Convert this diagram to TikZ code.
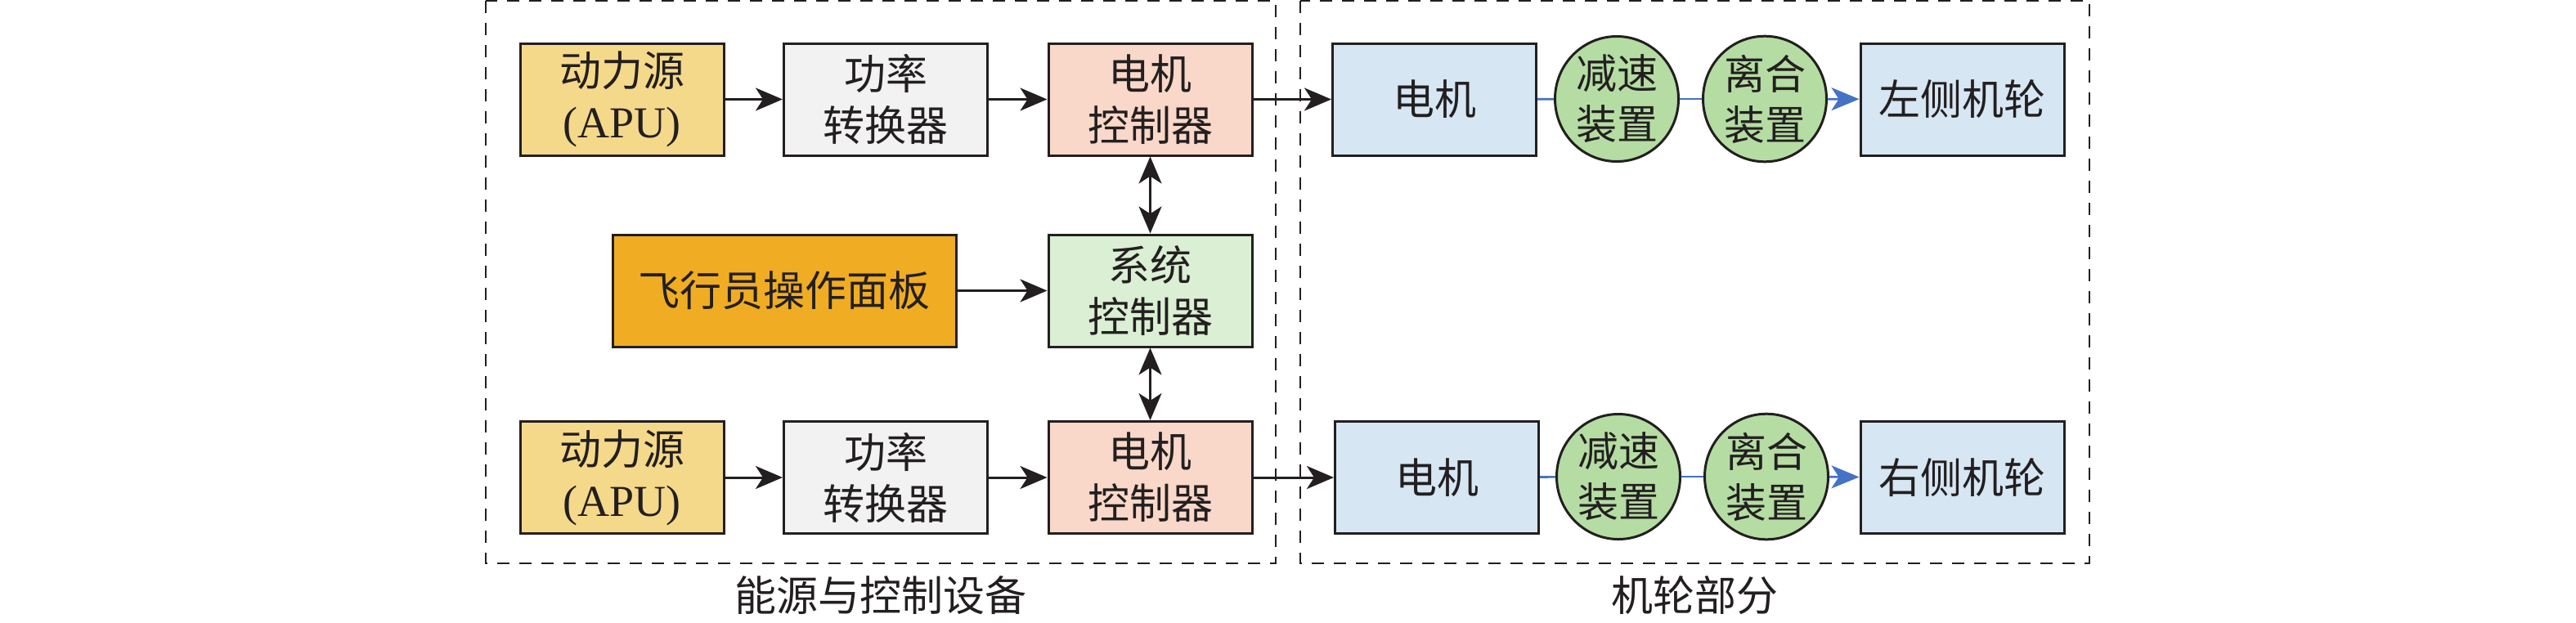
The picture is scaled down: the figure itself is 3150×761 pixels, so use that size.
\documentclass[tikz,border=0pt]{standalone}
\usepackage{fontspec}
\setmainfont{Liberation Serif}
\newfontfamily\cjk{Noto Sans CJK SC}
\usetikzlibrary{arrows.meta,shapes.geometric}
\definecolor{cAPU}{HTML}{F4D98B}
\definecolor{cPow}{HTML}{F2F2F2}
\definecolor{cMC}{HTML}{F9D8C9}
\definecolor{cPilot}{HTML}{F0AD23}
\definecolor{cSC}{HTML}{DAEFD3}
\definecolor{cBlue}{HTML}{D6E6F3}
\definecolor{cGreen}{HTML}{B5DDA3}
\definecolor{cLine}{HTML}{4472C4}
\definecolor{cInk}{HTML}{231F20}
\begin{document}
\begin{tikzpicture}[x=1pt,y=-1pt,
  blockbox/.style={draw=cInk, line width=3pt, minimum width=249pt, minimum height=137pt,
    inner sep=0pt, align=center, font=\cjk\fontsize{51}{63}\selectfont, text=cInk},
  roundbox/.style={draw=cInk, line width=3pt, ellipse, fill=cGreen, minimum width=151pt, minimum height=153pt,
    inner sep=0pt, align=center, font=\cjk\fontsize{50}{62}\selectfont, text=cInk},
  groupbox/.style={draw=cInk, line width=2pt, dash pattern=on 15pt off 12pt},
  grouplabel/.style={font=\cjk\fontsize{51}{60}\selectfont, text=cInk, inner sep=0pt},
  flow/.style={draw=cInk, line width=3pt, -{Stealth[length=33pt, width=28pt, inset=9pt]}},
  both/.style={draw=cInk, line width=2.7pt, {Stealth[length=33pt, width=28pt, inset=9pt]}-{Stealth[length=33pt, width=28pt, inset=9pt]}},
  mech/.style={draw=cLine, line width=2.7pt},
  mecharrow/.style={draw=cLine, line width=2.7pt, -{Stealth[length=34pt, width=28pt, inset=9pt]}}
]
\useasboundingbox (0,0) rectangle (3150,761);
% groups
\draw[groupbox] (594,1) rectangle (1560,689);
\draw[groupbox] (1590,1) rectangle (2555,689);
\node[grouplabel] (lab1) at (1077,728) {能源与控制设备};
\node[grouplabel] (lab2) at (2072,728) {机轮部分};
% top row
\node[blockbox, fill=cAPU] (apu1) at (760.5,121.5) {动力源\\{\rmfamily\fontsize{54}{63}\selectfont (APU)}};
\node[blockbox, fill=cPow] (pc1) at (1083,121.5) {功率\\转换器};
\node[blockbox, fill=cMC] (mc1) at (1406.5,121.5) {电机\\控制器};
% middle row
\node[blockbox, fill=cPilot, minimum width=420pt] (pilot) at (959,355.5) {飞行员操作面板};
\node[blockbox, fill=cSC] (sc) at (1406.5,355.5) {系统\\控制器};
% bottom row
\node[blockbox, fill=cAPU] (apu2) at (760.5,584) {动力源\\{\rmfamily\fontsize{54}{63}\selectfont (APU)}};
\node[blockbox, fill=cPow] (pc2) at (1083,584) {功率\\转换器};
\node[blockbox, fill=cMC] (mc2) at (1406.5,584) {电机\\控制器};
% wheel part top
\node[blockbox, fill=cBlue] (mo1) at (1754,121.5) {电机};
\node[roundbox] (rd1) at (1977,121) {减速\\装置};
\node[roundbox] (cl1) at (2158,121) {离合\\装置};
\node[blockbox, fill=cBlue] (wh1) at (2399.5,121.5) {左侧机轮};
% wheel part bottom
\node[blockbox, fill=cBlue] (mo2) at (1757,584) {电机};
\node[roundbox] (rd2) at (1979,583) {减速\\装置};
\node[roundbox] (cl2) at (2160,583) {离合\\装置};
\node[blockbox, fill=cBlue] (wh2) at (2399.5,584) {右侧机轮};
% connectors
\draw[flow] (apu1) -- (pc1);
\draw[flow] (pc1) -- (mc1);
\draw[flow] (mc1) -- (mo1);
\draw[flow] (apu2) -- (pc2);
\draw[flow] (pc2) -- (mc2);
\draw[flow] (mc2) -- (mo2);
\draw[flow] (pilot) -- (sc);
\draw[both] (mc1) -- (sc);
\draw[both] (sc) -- (mc2);
\draw[mech] (mo1) -- (rd1);
\draw[mech] (rd1) -- (cl1);
\draw[mecharrow] (cl1) -- (wh1);
\draw[mech] (mo2) -- (rd2);
\draw[mech] (rd2) -- (cl2);
\draw[mecharrow] (cl2) -- (wh2);
\end{tikzpicture}
\end{document}
